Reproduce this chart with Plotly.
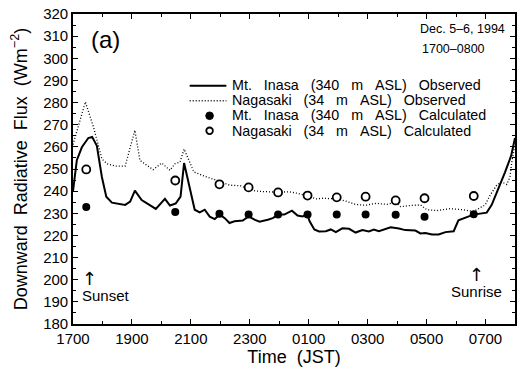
import plotly.graph_objects as go

# ---------------- data (hours after 1700 JST, Dec. 5) ----------------
t_inasa_obs = [0, 0.13, 0.3, 0.52, 0.65, 0.81, 0.98, 1.13, 1.32, 1.6, 1.77, 1.94, 2.1, 2.33, 2.61,
               2.81, 3.12, 3.29, 3.49, 3.65, 3.77, 3.94, 4.13, 4.3, 4.47, 4.64, 4.81, 4.98, 5.15,
               5.31, 5.48, 5.76, 5.96, 6.16, 6.33, 6.61, 6.78, 6.97, 7.17, 7.43, 7.62, 7.79, 7.95,
               8.03, 8.19, 8.35, 8.58, 8.75, 8.92, 9.14, 9.37, 9.59, 9.82, 10.04, 10.21, 10.38,
               10.78, 11.06, 11.28, 11.62, 11.79, 11.96, 12.18, 12.41, 12.64, 12.92, 13.08, 13.59,
               14.04, 14.21, 14.44, 14.66, 14.87, 15]
v_inasa_obs = [240, 254, 259.8, 264, 264.5, 260.5, 246.4, 237.5, 234.8, 234.3, 233.8, 235.3, 240.2,
               236, 233.8, 232, 236.5, 233.5, 234.5, 237.5, 252.7, 242, 231.6, 230.4, 231.6, 228.5,
               227.4, 229.4, 227.8, 225.6, 226.4, 226.7, 228.6, 227.1, 226.2, 227.1, 227.8, 229.4,
               229.4, 231.2, 229, 228.6, 229.5, 226.4, 222.7, 221.8, 221.9, 222.7, 221.5, 223.2,
               223.0, 221.3, 222.4, 221.8, 222.7, 221.9, 223.7, 223.1, 222.4, 222.2, 220.9, 221.1,
               220.4, 220.4, 221.5, 221.9, 226.8, 229.4, 230.3, 233.8, 241, 248.5, 256, 264]

t_nagasaki_obs = [0, 0.42, 0.7, 0.98, 1.15, 1.43, 1.77, 2.1, 2.27, 2.72, 3.01, 3.29, 3.46, 3.63,
                  3.77, 4.1, 4.53, 4.86, 5.31, 5.71, 5.96, 6.33, 6.95, 7.34, 7.62, 7.95, 8.24, 8.47,
                  8.95, 9.26, 9.59, 9.93, 10.3, 10.66, 10.95, 11.12, 11.45, 11.79, 12.01, 12.35,
                  12.8, 13.25, 13.59, 13.99, 14.16, 14.38, 14.55, 14.72, 14.83, 14.89, 15]
v_nagasaki_obs = [261, 280.3, 268.7, 254.6, 252.4, 251.3, 251.3, 267.5, 253.9, 249.7, 252.7, 249.4,
                  252.4, 253.1, 259, 248.7, 246.4, 245, 242.7, 242.4, 240.5, 239.9, 239.5, 239.7,
                  239, 238, 236.5, 236.8, 236.5, 235.5, 234, 233.6, 234.5, 234, 235, 233, 233.5,
                  233.8, 231.6, 231.2, 232.1, 231.6, 230.8, 233.8, 238.3, 242.7, 244.2, 243, 246.4,
                  253, 261]

t_calc = [0.45, 3.47, 4.97, 5.96, 6.96, 7.96, 8.95, 9.93, 10.95, 11.93, 13.6]
v_inasa_calc = [232.8, 230.6, 229.8, 229.5, 229.5, 229.5, 229.4, 229.4, 229.3, 228.4, 229.6]
v_nagasaki_calc = [249.8, 244.8, 243.1, 241.7, 239.4, 238.0, 237.2, 237.5, 235.8, 236.8, 237.8]

x_tickvals = [0, 2, 4, 6, 8, 10, 12, 14]
x_ticktext = ["1700", "1900", "2100", "2300", "0100", "0300", "0500", "0700"]

sunset_t, sunrise_t = 0.49, 13.65

series_names = ["Mt. Inasa (340 m ASL) Observed", "Nagasaki (34 m ASL) Observed",
                "Mt. Inasa (340 m ASL) Calculated", "Nagasaki (34 m ASL) Calculated"]

FONT = "Liberation Sans, Arial, Helvetica, sans-serif"
NB = "\u00a0"
DOT = "1px,2px"
ARROW = "<span style='font-family:DejaVu Sans;font-size:18px'>\u2191</span>"


def spaced(s, n=2):
    return (" " + NB * (n - 1)).join(s.split(" "))


fig = go.Figure()
fig.add_trace(go.Scatter(x=t_inasa_obs, y=v_inasa_obs, mode="lines", name=series_names[0],
                         line=dict(color="black", width=2), showlegend=False))
fig.add_trace(go.Scatter(x=t_nagasaki_obs, y=v_nagasaki_obs, mode="lines", name=series_names[1],
                         line=dict(color="black", width=1.3, dash=DOT), showlegend=False))
fig.add_trace(go.Scatter(x=t_calc, y=v_inasa_calc, mode="markers", name=series_names[2],
                         marker=dict(symbol="circle", size=8, color="black"), showlegend=False))
fig.add_trace(go.Scatter(x=t_calc, y=v_nagasaki_calc, mode="markers", name=series_names[3],
                         marker=dict(symbol="circle", size=8, color="white",
                                     line=dict(color="black", width=1.8)), showlegend=False))

# ---------------- manual legend (paper coords) ----------------
leg_x_line0, leg_x_line1, leg_x_sym, leg_x_text = 0.264, 0.347, 0.309, 0.355
leg_y = [0.7685, 0.7201, 0.6717, 0.6232]
shapes = [
    dict(type="line", xref="paper", yref="paper", x0=leg_x_line0, x1=leg_x_line1,
         y0=leg_y[0], y1=leg_y[0], line=dict(color="black", width=2)),
    dict(type="line", xref="paper", yref="paper", x0=leg_x_line0, x1=leg_x_line1,
         y0=leg_y[1], y1=leg_y[1], line=dict(color="black", width=1.3, dash=DOT)),
    dict(type="circle", xref="paper", yref="paper", xsizemode="pixel", ysizemode="pixel",
         xanchor=leg_x_sym, yanchor=leg_y[2], x0=-3.8, x1=3.8, y0=-3.8, y1=3.8,
         fillcolor="black", line=dict(color="black", width=1)),
    dict(type="circle", xref="paper", yref="paper", xsizemode="pixel", ysizemode="pixel",
         xanchor=leg_x_sym, yanchor=leg_y[3], x0=-3.3, x1=3.3, y0=-3.3, y1=3.3,
         fillcolor="white", line=dict(color="black", width=1.8)),
]
legend_text = "<br>".join(
    "<span style='font-size:14.3px'>" + spaced(n, 3) + "</span>" for n in series_names)

annotations = [
    dict(text=legend_text, xref="paper", yref="paper", x=leg_x_text,
         y=sum(leg_y) / len(leg_y), xanchor="left", yanchor="middle", align="left",
         showarrow=False, font=dict(size=11.7, color="black", family=FONT)),
    dict(text="(a)", xref="paper", yref="paper", x=0.0727, y=0.917, xanchor="center",
         yanchor="middle", showarrow=False, font=dict(size=24, color="black", family=FONT)),
    dict(text="Dec. 5\u20136, 1994", xref="paper", yref="paper", x=0.982, y=0.952,
         xanchor="right", yanchor="middle", showarrow=False,
         font=dict(size=12.5, color="black", family=FONT)),
    dict(text="1700\u20130800", xref="paper", yref="paper", x=0.785, y=0.8885,
         xanchor="left", yanchor="middle", showarrow=False,
         font=dict(size=12.5, color="black", family=FONT)),
    # sunset / sunrise markers
    dict(text=ARROW + "<br><span style='font-size:15px'>Sunset</span>", x=sunset_t, y=197.3,
         xanchor="left", yanchor="middle", align="left", xshift=-7, showarrow=False,
         font=dict(size=12.5, color="black", family=FONT)),
    dict(text=ARROW + "<br><span style='font-size:15px'>Sunrise</span>", x=sunrise_t, y=199.1,
         xanchor="center", yanchor="middle", align="center", xshift=1, showarrow=False,
         font=dict(size=12.5, color="black", family=FONT)),
]

fig.update_layout(
    width=522, height=369,
    margin=dict(l=73, r=5, t=10, b=45),
    paper_bgcolor="white", plot_bgcolor="white",
    font=dict(family=FONT, color="black", size=15),
    shapes=shapes, annotations=annotations,
    xaxis=dict(range=[0, 15], tickmode="array", tickvals=x_tickvals, ticktext=x_ticktext,
               ticks="inside", ticklen=5, tickwidth=1.2, tickcolor="black",
               minor=dict(tickmode="linear", tick0=0, dtick=1, ticks="inside", ticklen=3,
                          tickwidth=1, tickcolor="black"),
               showline=True, linecolor="black", linewidth=1.6, mirror="ticks",
               showgrid=False, zeroline=False, tickfont=dict(size=15),
               title=dict(text=spaced("Time (JST)", 2), font=dict(size=18), standoff=4)),
    yaxis=dict(range=[180, 320], tickmode="linear", tick0=180, dtick=10,
               ticks="inside", ticklen=5, tickwidth=1.2, tickcolor="black",
               minor=dict(tickmode="linear", tick0=180, dtick=5, ticks="inside", ticklen=3,
                          tickwidth=1, tickcolor="black"),
               showline=True, linecolor="black", linewidth=1.6, mirror="ticks",
               showgrid=False, zeroline=False, tickfont=dict(size=15),
               title=dict(text=NB * 4 + spaced("Downward Radiative Flux (Wm<sup>\u22122</sup>)", 2),
                          font=dict(size=18), standoff=11)),
)

fig.write_html("out.html")
